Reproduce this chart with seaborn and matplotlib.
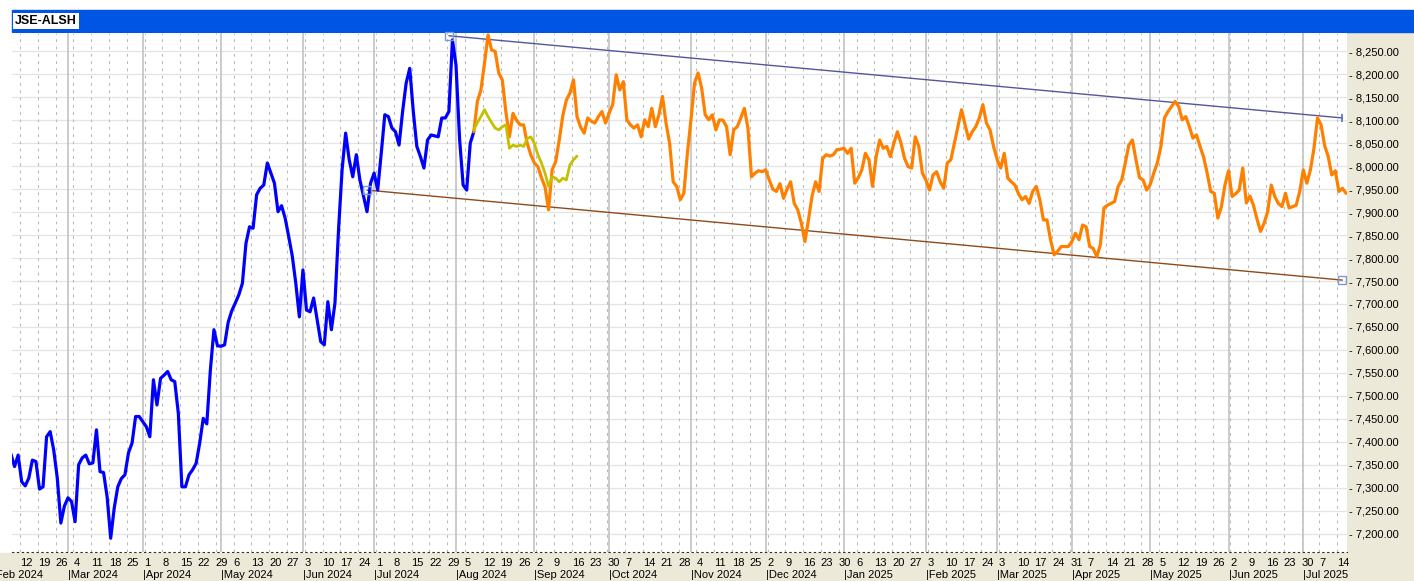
"""
JSE All Share index (JSE-ALSH) - session chart with trend channel.
"""
import numpy as np
import pandas as pd
import matplotlib
matplotlib.use('Agg')
import matplotlib.pyplot as plt
import seaborn as sns
from matplotlib.patches import Rectangle
from matplotlib.transforms import blended_transform_factory

# ---- data (sessions are counted in weekdays from 8 Feb 2024) ----
FIRST_SESSION = '2024-02-08'
LAST_DAY = '2025-07-18'

# history, sessions 0..130
blue_start = 0
blue_close = [
    7373, 7346, 7371, 7313, 7304, 7321, 7360, 7357, 7297, 7302,
    7411, 7422, 7382, 7321, 7223, 7260, 7278, 7270, 7226, 7350,
    7365, 7371, 7352, 7354, 7426, 7335, 7333, 7280, 7190, 7256,
    7302, 7320, 7328, 7376, 7397, 7455, 7455, 7444, 7433, 7411,
    7535, 7480, 7538, 7545, 7553, 7535, 7531, 7462, 7302, 7302,
    7328, 7339, 7353, 7397, 7451, 7439, 7556, 7644, 7609, 7608,
    7611, 7660, 7685, 7702, 7720, 7745, 7832, 7868, 7865, 7938,
    7952, 7959, 8007, 7985, 7963, 7901, 7914, 7887, 7847, 7805,
    7745, 7672, 7774, 7687, 7683, 7713, 7665, 7618, 7611, 7705,
    7644, 7702, 7861, 7992, 8072, 8014, 7977, 8025, 7970, 7935,
    7901, 7963, 7985, 7948, 8028, 8112, 8108, 8083, 8075, 8046,
    8119, 8181, 8213, 8119, 8043, 8021, 7996, 8057, 8068, 8066,
    8064, 8105, 8105, 8119, 8275, 8220, 8060, 7959, 7948, 8050,
    8075,
]

# later sessions, 130..375
orange_start = 130
orange_close = [
    8075, 8141, 8166, 8224, 8286, 8253, 8250, 8203, 8188, 8119,
    8064, 8115, 8100, 8090, 8090, 8050, 8025, 8007, 7999, 7975,
    7955, 7905, 7992, 8010, 8057, 8110, 8144, 8159, 8188, 8108,
    8085, 8072, 8105, 8098, 8094, 8108, 8119, 8094, 8115, 8134,
    8199, 8166, 8184, 8101, 8090, 8083, 8090, 8064, 8101, 8086,
    8126, 8086, 8112, 8152, 8094, 8050, 7966, 7956, 7927, 7941,
    8028, 8101, 8181, 8203, 8170, 8112, 8101, 8112, 8079, 8101,
    8100, 8086, 8025, 8079, 8086, 8105, 8126, 8083, 7977, 7985,
    7990, 7988, 7992, 7970, 7950, 7945, 7962, 7930, 7950, 7966,
    7919, 7905, 7876, 7836, 7883, 7934, 7966, 7945, 8017, 8025,
    8022, 8025, 8036, 8037, 8039, 8028, 8039, 7963, 7975, 7992,
    8028, 8014, 7956, 8020, 8057, 8039, 8043, 8021, 8050, 8075,
    8050, 8017, 7999, 7996, 8064, 8043, 7985, 7970, 7948, 7981,
    7988, 7966, 7952, 8007, 8014, 8050, 8086, 8123, 8090, 8059,
    8075, 8086, 8105, 8134, 8094, 8079, 8043, 8015, 7996, 8028,
    7974, 7966, 7959, 7940, 7927, 7934, 7919, 7945, 7956, 7927,
    7883, 7883, 7840, 7807, 7815, 7825, 7825, 7825, 7836, 7854,
    7840, 7872, 7868, 7825, 7821, 7803, 7829, 7909, 7915, 7919,
    7923, 7956, 7970, 8007, 8046, 8057, 8014, 7975, 7970, 7948,
    7960, 7985, 8007, 8043, 8105, 8119, 8130, 8141, 8130, 8101,
    8108, 8086, 8061, 8068, 8043, 8020, 7985, 7945, 7941, 7887,
    7912, 7959, 7990, 7934, 7940, 7948, 7996, 7920, 7935, 7915,
    7885, 7858, 7876, 7901, 7959, 7934, 7919, 7912, 7941, 7909,
    7912, 7915, 7945, 7992, 7963, 7992, 8039, 8105, 8090, 8045,
    8021, 7981, 7990, 7945, 7952, 7941,
]

# short projection, sessions 130..159
olive_start = 130
olive_close = [
    8079, 8095, 8108, 8123, 8108, 8095, 8083, 8079, 8086, 8090,
    8039, 8046, 8043, 8046, 8043, 8060, 8064, 8050, 8025, 8007,
    7985, 7956, 7977, 7974, 7966, 7974, 7970, 8003, 8014, 8022,
]

# trend channel end points
upper_session = [123, 374]
upper_value = [8284, 8105]
lower_session = [100, 374]
lower_value = [7948, 7752]

y_ticks = list(range(7200, 8251, 50))

# ---- figure ----
W, H = 1414, 581
BEIGE = '#ECE9D8'

sns.set_theme(style='white')
plt.rcParams['font.family'] = ['Liberation Sans', 'DejaVu Sans']

fig = plt.figure(figsize=(W / 100, H / 100), dpi=100, facecolor='white')

# panel backgrounds
fig.add_artist(Rectangle((1347 / W, 0), (W - 1347) / W, (H - 32) / H,
                         transform=fig.transFigure, color=BEIGE, zorder=0))
fig.add_artist(Rectangle((0, 0), 1, 28 / H,
                         transform=fig.transFigure, color=BEIGE, zorder=0))
fig.add_artist(Rectangle((12 / W, 1 - 32 / H), (W - 12) / W, 22 / H,
                         transform=fig.transFigure, color='#0055E5', zorder=0))
fig.text(15 / W, 1 - 21 / H, 'JSE-ALSH', fontsize=9, fontweight='bold',
         color='black', va='center', ha='left',
         bbox=dict(facecolor='white', edgecolor='none', pad=1.3))

ax = fig.add_axes([12 / W, 29 / H, 1335 / W, 519 / H])
ax.set_facecolor('white')
ax.set_xlim(0.28, 375.28)
ax.set_ylim(7160, 8290)

# calendar for the session axis
days = pd.bdate_range('2024-02-01', LAST_DAY)
sess = np.arange(len(days)) - days.get_loc(pd.Timestamp(FIRST_SESSION))
is_monday = days.dayofweek == 0
is_month = days.month != np.roll(days.month, 1)
in_view = (sess >= 0) & (sess <= 375)

week_pos = sess[is_monday & in_view] + 0.5
month_pos = sess[is_month & in_view]

# grid
for v in y_ticks:
    ax.axhline(v, color='#E4E4E4', lw=0.9, zorder=1)
ax.vlines(week_pos, 7160, 8290, colors='#B8B8B8', lw=0.75,
          linestyles=(0, (2.7, 4.3)), zorder=1)
ax.vlines(month_pos, 7160, 8290, colors='#C2C2C2', lw=1.2, zorder=1)

# series
sns.lineplot(x=np.arange(len(blue_close)) + blue_start, y=blue_close, ax=ax,
             color='#0000FF', lw=2.3, estimator=None, zorder=5)
sns.lineplot(x=np.arange(len(orange_close)) + orange_start, y=orange_close, ax=ax,
             color='#FF8000', lw=2.3, estimator=None, zorder=5)
sns.lineplot(x=np.arange(len(olive_close)) + olive_start, y=olive_close, ax=ax,
             color='#C4C000', lw=2.0, estimator=None, zorder=6)

# trend channel
sns.lineplot(x=upper_session, y=upper_value, ax=ax, color='#55559C', lw=1.0,
             estimator=None, zorder=4)
sns.lineplot(x=lower_session, y=lower_value, ax=ax, color='#8E4A1C', lw=1.0,
             estimator=None, zorder=4)
ax.plot(upper_session[:1], upper_value[:1], ls='none', marker='s', ms=6,
        mfc='none', mec='#7C9AD2', mew=1, zorder=7, clip_on=False)
ax.plot(upper_session[1:], upper_value[1:], ls='none', marker='|', ms=6,
        mec='#4F6FC8', mew=1.2, zorder=7)
ax.plot(lower_session, lower_value, ls='none', marker='s', ms=6,
        mfc='none', mec='#7C9AD2', mew=1, zorder=7)

# y axis on the right
ax.yaxis.tick_right()
ax.set_yticks(y_ticks)
ax.set_yticklabels([f'- {v:,.2f}' for v in y_ticks])
ax.tick_params(axis='y', length=0, pad=1.5, labelsize=8, labelcolor='black')
ax.set_xticks([])
ax.set_xlabel('')
ax.set_ylabel('')

for side in ['left', 'top', 'right']:
    ax.spines[side].set_visible(False)
ax.spines['bottom'].set_color('#303030')
ax.spines['bottom'].set_linewidth(0.8)
ax.spines['bottom'].set_linestyle((0, (1.2, 3.2)))

# date labels under the axis
trans = blended_transform_factory(ax.transData, ax.transAxes)
for s, d in zip(sess[is_monday], days[is_monday]):
    if s < 0 or s > 375:
        continue
    ax.text(s + 0.5, -0.0125, str(d.day), transform=trans, ha='left', va='top',
            fontsize=8, color='black', clip_on=False)
for s, d in zip(sess[is_month], days[is_month]):
    if s > 375:
        continue
    ax.text(s, -0.0355, '|' + d.strftime('%b %Y'), transform=trans, ha='left',
            va='top', fontsize=8, color='black', clip_on=False)

fig.savefig('out.png', dpi=100, facecolor=fig.get_facecolor())
plt.close(fig)
